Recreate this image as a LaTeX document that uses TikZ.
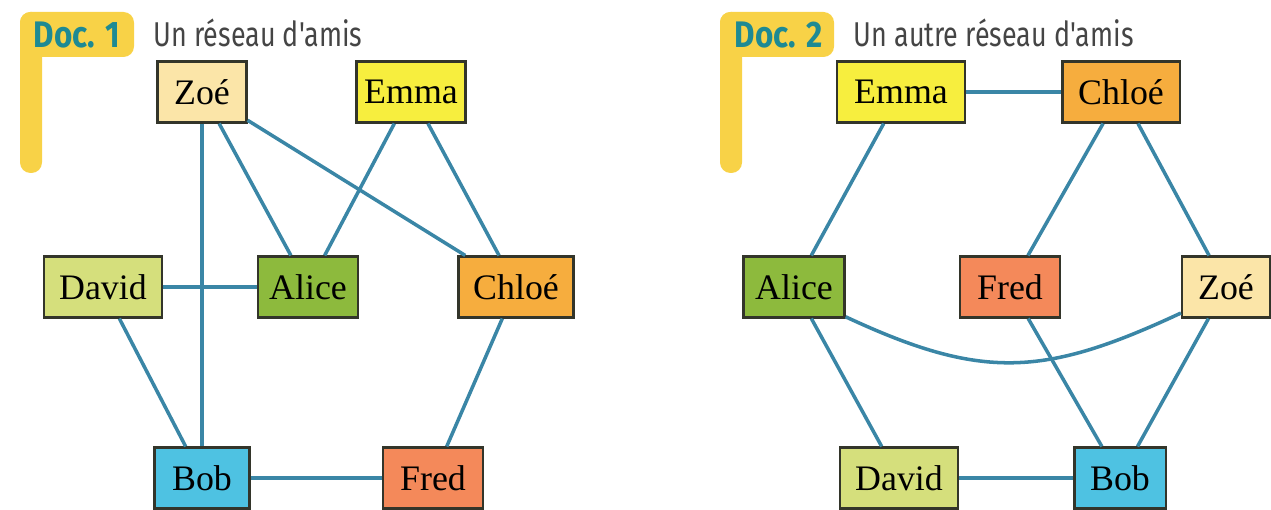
\documentclass[tikz,border=0pt]{standalone}
\usepackage{fontspec}
\setmainfont{Liberation Serif}
\newfontfamily\headfont{Fira Sans}
\usepackage{graphicx}
\definecolor{docyellow}{HTML}{F8D247}
\definecolor{docteal}{HTML}{1E8A93}
\definecolor{titlegray}{HTML}{454545}
\definecolor{linkblue}{HTML}{3A86A6}
\definecolor{boxline}{HTML}{33352A}
\definecolor{czoe}{HTML}{FBE5A8}
\definecolor{cemma}{HTML}{F7EE3E}
\definecolor{cdavid}{HTML}{D5DF7C}
\definecolor{calice}{HTML}{8DBA3D}
\definecolor{cchloe}{HTML}{F6AD3E}
\definecolor{cbob}{HTML}{4EC2E2}
\definecolor{cfred}{HTML}{F4895A}
\tikzset{friend/.style={draw=boxline,line width=0.6pt,minimum height=6.1mm,
                        inner sep=0pt,font=\fontsize{10.2}{12}\selectfont}}
\tikzset{link/.style={draw=linkblue,line width=1pt}}

\begin{document}
\begin{tikzpicture}[x=0.01cm,y=-0.01cm]
    \tikzstyle{doclabel}=[anchor=west,inner sep=0pt,text=docteal,font=\headfont\bfseries\fontsize{10.5}{12}\selectfont]
    \tikzstyle{doctitle}=[anchor=west,inner sep=0pt,text=titlegray,font=\headfont\fontsize{9.8}{11}\selectfont]
    \useasboundingbox (0,0) rectangle (1271,510);

    % Draw the yellow corner marks
    \foreach \x in {0,700} {
        \fill[docyellow,rounded corners=3] (\x+20,12) rectangle (\x+134,57);
        \fill[docyellow,rounded corners=3] (\x+20,12) rectangle (\x+42,173);
    }
    \node[doclabel] (D-1) at (33,35) {\scalebox{0.85}[1]{Doc. 1}};
    \node[doctitle] (T-1) at (153,33) {\scalebox{0.78}[1]{Un réseau d'amis}};
    \node[doclabel] (D-2) at (734,35) {\scalebox{0.85}[1]{Doc. 2}};
    \node[doctitle] (T-2) at (853,33) {\scalebox{0.78}[1]{Un autre réseau d'amis}};

    % Draw the friends of the first network
    \foreach \name/\txt/\x/\y/\w/\col in {zoe/Zoé/202/92/8.9/czoe,
            emma/Emma/411/92/10.9/cemma, david/David/103/287/11.8/cdavid,
            alice/Alice/308/287/10/calice, chloe/Chloé/516/287/11.5/cchloe,
            bob/Bob/202/478/9.5/cbob, fred/Fred/433/478/10/cfred}
        \node[friend,fill=\col,minimum width=\w mm] (A-\name) at (\x,\y) {\txt};

    % Connect the friends of the first network
    \foreach \source/\dest in {zoe/bob,zoe/alice,zoe/chloe,emma/alice,emma/chloe,
            david/alice,david/bob,bob/fred,chloe/fred}
        \path[link] (A-\source) -- (A-\dest);

    % Draw the friends of the second network
    \foreach \name/\txt/\x/\y/\w/\col in {emma/Emma/901/92/12.8/cemma,
            chloe/Chloé/1121/92/11.7/cchloe, alice/Alice/794/287/10.1/calice,
            fred/Fred/1010/287/10/cfred, zoe/Zoé/1226/287/8.8/czoe,
            david/David/899/478/11.8/cdavid, bob/Bob/1120/478/9.1/cbob}
        \node[friend,fill=\col,minimum width=\w mm] (B-\name) at (\x,\y) {\txt};

    % Connect the friends of the second network
    \foreach \source/\dest in {emma/chloe,emma/alice,chloe/fred,chloe/zoe,
            alice/david,fred/bob,zoe/bob,david/bob}
        \path[link] (B-\source) -- (B-\dest);
    \path[link] (B-alice.-30) to[out=-25,in=-155,looseness=1.15] (B-zoe.-150);
\end{tikzpicture}
\end{document}
